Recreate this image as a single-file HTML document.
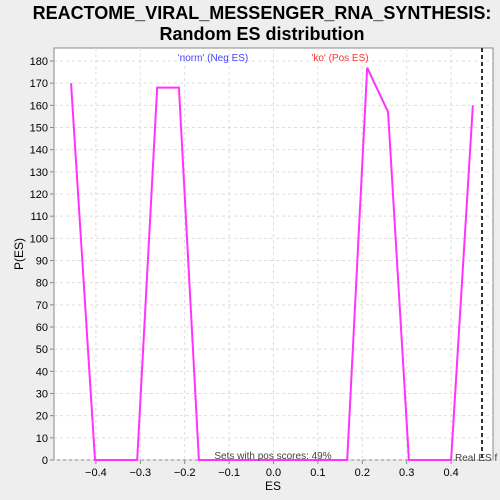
<!DOCTYPE html>
<html><head><meta charset="utf-8"><style>
body{margin:0;background:#eeeeee;}
svg{display:block;font-family:"Liberation Sans",sans-serif;}
</style></head><body>
<svg width="500" height="500">
<text x="262" y="19" text-anchor="middle" font-size="18" font-weight="bold">REACTOME_VIRAL_MESSENGER_RNA_SYNTHESIS:</text>
<text x="262" y="40" text-anchor="middle" font-size="18" font-weight="bold">Random ES distribution</text>
<rect x="54" y="48" width="439" height="412" fill="#fff" stroke="#888"/>
<g id="grid"></g><g id="axes"></g>
<polyline id="line" fill="none" stroke="#ff33ff" stroke-width="2"/>
<line x1="482" y1="48" x2="482" y2="460" stroke="#333" stroke-width="2" stroke-dasharray="4,3"/>
<text x="213" y="61" text-anchor="middle" font-size="10" fill="#4444ff">'norm' (Neg ES)</text>
<text x="340" y="61" text-anchor="middle" font-size="10" fill="#ff3333">'ko' (Pos ES)</text>
<text x="273" y="459" text-anchor="middle" font-size="10" fill="#444">Sets with pos scores: 49%</text>
<text x="455" y="461" font-size="10" fill="#444">Real ES f</text>
<text x="273" y="490" text-anchor="middle" font-size="12">ES</text>
<text x="23" y="254" text-anchor="middle" font-size="12" transform="rotate(-90 23 254)">P(ES)</text>
</svg>
<script>
const esValues=[-0.456,-0.402,-0.307,-0.262,-0.213,-0.168,0.166,0.211,0.258,0.305,0.40,0.449];
const densities=[170,0,0,168,168,0,0,177,157,0,0,160];
const xTicks=[-0.4,-0.3,-0.2,-0.1,0,0.1,0.2,0.3,0.4];
const yTicks=[0,10,20,30,40,50,60,70,80,90,100,110,120,130,140,150,160,170,180];
const X=v=>273.5+v*444, Y=v=>460-v*399/180;
const ns="http://www.w3.org/2000/svg";
const g=document.getElementById('grid'),a=document.getElementById('axes');
function mk(tag,at,par){const e=document.createElementNS(ns,tag);for(const k in at)e.setAttribute(k,at[k]);par.appendChild(e);return e;}
xTicks.forEach(t=>{
 const l=mk('line',{x1:X(t),x2:X(t),y1:48,y2:460,stroke:'#ddd','stroke-dasharray':'3,3'},g);
 
 
 mk('line',{x1:X(t),x2:X(t),y1:460,y2:464,stroke:'#888'},a);
 const s=mk('text',{x:X(t),y:476,'text-anchor':'middle','font-size':11},a);
 s.textContent=(t===0?'0.0':(t<0?'\u2212':'')+Math.abs(t).toFixed(1));
 
 
});
yTicks.forEach(t=>{
 const l=mk('line',{x1:54,x2:493,y1:Y(t),y2:Y(t),stroke:'#ddd','stroke-dasharray':'3,3'},g);
 
 
 mk('line',{x1:50,x2:54,y1:Y(t),y2:Y(t),stroke:'#888'},a);
 const s=mk('text',{x:48,y:Y(t)+4,'text-anchor':'end','font-size':11},a);
 s.textContent=t;
 
 
});
document.getElementById('line').setAttribute('points',esValues.map((v,i)=>X(v)+','+Y(densities[i])).join(' '));
</script>
</body></html>
